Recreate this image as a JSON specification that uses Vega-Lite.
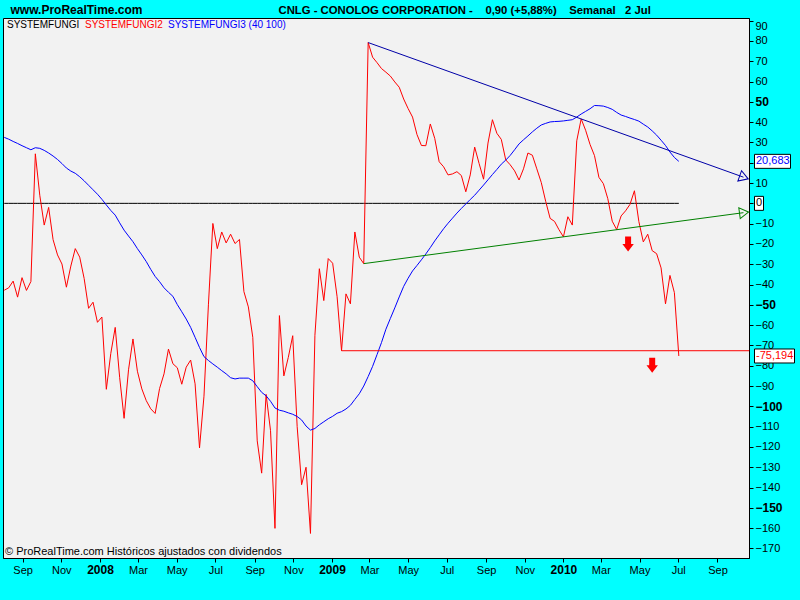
{
"$schema": "https://vega.github.io/schema/vega-lite/v6.json",
"width": 746, "height": 540,
"autosize": {"type": "none"},
"padding": {"left": 3, "top": 18, "right": 51, "bottom": 42},
"background": "#00FFFF",
"title": {"text": "© ProRealTime.com Históricos ajustados con dividendos", "orient": "bottom", "anchor": "start", "frame": "group", "dx": 2, "offset": -20, "baseline": "alphabetic", "font": "Liberation Sans", "fontSize": 11, "fontWeight": "normal", "color": "#000000"},
"config": {"view": {"fill": "#F2F2F2", "stroke": "#000000", "strokeWidth": 1}, "font": "Liberation Sans", "axis": {"labelOverlap": false}},
"datasets": {
"w": [
{"d":"2007-08-03","SYSTEMFUNGI":0,"SYSTEMFUNGI2":-42.8,"SYSTEMFUNGI3":32.5},
{"d":"2007-08-10","SYSTEMFUNGI":0,"SYSTEMFUNGI2":-41.6,"SYSTEMFUNGI3":31.6},
{"d":"2007-08-17","SYSTEMFUNGI":0,"SYSTEMFUNGI2":-38.3,"SYSTEMFUNGI3":30.5},
{"d":"2007-08-24","SYSTEMFUNGI":0,"SYSTEMFUNGI2":-46.2,"SYSTEMFUNGI3":29.5},
{"d":"2007-08-31","SYSTEMFUNGI":0,"SYSTEMFUNGI2":-36.6,"SYSTEMFUNGI3":28.4},
{"d":"2007-09-07","SYSTEMFUNGI":0,"SYSTEMFUNGI2":-42.9,"SYSTEMFUNGI3":27.4},
{"d":"2007-09-14","SYSTEMFUNGI":0,"SYSTEMFUNGI2":-38.5,"SYSTEMFUNGI3":26.4},
{"d":"2007-09-21","SYSTEMFUNGI":0,"SYSTEMFUNGI2":24.4,"SYSTEMFUNGI3":27.4},
{"d":"2007-09-28","SYSTEMFUNGI":0,"SYSTEMFUNGI2":4,"SYSTEMFUNGI3":27.1},
{"d":"2007-10-05","SYSTEMFUNGI":0,"SYSTEMFUNGI2":-10.7,"SYSTEMFUNGI3":26.1},
{"d":"2007-10-12","SYSTEMFUNGI":0,"SYSTEMFUNGI2":-2,"SYSTEMFUNGI3":24.8},
{"d":"2007-10-19","SYSTEMFUNGI":0,"SYSTEMFUNGI2":-17.9,"SYSTEMFUNGI3":23.3},
{"d":"2007-10-26","SYSTEMFUNGI":0,"SYSTEMFUNGI2":-25.4,"SYSTEMFUNGI3":21.6},
{"d":"2007-11-02","SYSTEMFUNGI":0,"SYSTEMFUNGI2":-29.9,"SYSTEMFUNGI3":19.6},
{"d":"2007-11-09","SYSTEMFUNGI":0,"SYSTEMFUNGI2":-41.3,"SYSTEMFUNGI3":17.4},
{"d":"2007-11-16","SYSTEMFUNGI":0,"SYSTEMFUNGI2":-30.9,"SYSTEMFUNGI3":15.9},
{"d":"2007-11-23","SYSTEMFUNGI":0,"SYSTEMFUNGI2":-22.3,"SYSTEMFUNGI3":14.8},
{"d":"2007-11-30","SYSTEMFUNGI":0,"SYSTEMFUNGI2":-26.5,"SYSTEMFUNGI3":13.1},
{"d":"2007-12-07","SYSTEMFUNGI":0,"SYSTEMFUNGI2":-37,"SYSTEMFUNGI3":11.1},
{"d":"2007-12-14","SYSTEMFUNGI":0,"SYSTEMFUNGI2":-51.7,"SYSTEMFUNGI3":8.9},
{"d":"2007-12-21","SYSTEMFUNGI":0,"SYSTEMFUNGI2":-48.7,"SYSTEMFUNGI3":6.7},
{"d":"2007-12-28","SYSTEMFUNGI":0,"SYSTEMFUNGI2":-58.6,"SYSTEMFUNGI3":4.5},
{"d":"2008-01-04","SYSTEMFUNGI":0,"SYSTEMFUNGI2":-56,"SYSTEMFUNGI3":2},
{"d":"2008-01-11","SYSTEMFUNGI":0,"SYSTEMFUNGI2":-91.6,"SYSTEMFUNGI3":-0.8},
{"d":"2008-01-18","SYSTEMFUNGI":0,"SYSTEMFUNGI2":-74,"SYSTEMFUNGI3":-3.5},
{"d":"2008-01-25","SYSTEMFUNGI":0,"SYSTEMFUNGI2":-61.1,"SYSTEMFUNGI3":-5.8},
{"d":"2008-02-01","SYSTEMFUNGI":0,"SYSTEMFUNGI2":-85.7,"SYSTEMFUNGI3":-9.6},
{"d":"2008-02-08","SYSTEMFUNGI":0,"SYSTEMFUNGI2":-105.9,"SYSTEMFUNGI3":-13.2},
{"d":"2008-02-15","SYSTEMFUNGI":0,"SYSTEMFUNGI2":-82,"SYSTEMFUNGI3":-16.1},
{"d":"2008-02-22","SYSTEMFUNGI":0,"SYSTEMFUNGI2":-66.8,"SYSTEMFUNGI3":-18.9},
{"d":"2008-02-29","SYSTEMFUNGI":0,"SYSTEMFUNGI2":-82.7,"SYSTEMFUNGI3":-22.3},
{"d":"2008-03-07","SYSTEMFUNGI":0,"SYSTEMFUNGI2":-91.4,"SYSTEMFUNGI3":-25.4},
{"d":"2008-03-14","SYSTEMFUNGI":0,"SYSTEMFUNGI2":-97.2,"SYSTEMFUNGI3":-28.7},
{"d":"2008-03-21","SYSTEMFUNGI":0,"SYSTEMFUNGI2":-101.2,"SYSTEMFUNGI3":-32.5},
{"d":"2008-03-28","SYSTEMFUNGI":0,"SYSTEMFUNGI2":-103.5,"SYSTEMFUNGI3":-36},
{"d":"2008-04-04","SYSTEMFUNGI":0,"SYSTEMFUNGI2":-91.2,"SYSTEMFUNGI3":-38.6},
{"d":"2008-04-11","SYSTEMFUNGI":0,"SYSTEMFUNGI2":-84,"SYSTEMFUNGI3":-41.6},
{"d":"2008-04-18","SYSTEMFUNGI":0,"SYSTEMFUNGI2":-71.8,"SYSTEMFUNGI3":-43.8},
{"d":"2008-04-25","SYSTEMFUNGI":0,"SYSTEMFUNGI2":-79,"SYSTEMFUNGI3":-45.8},
{"d":"2008-05-02","SYSTEMFUNGI":0,"SYSTEMFUNGI2":-81,"SYSTEMFUNGI3":-49.9},
{"d":"2008-05-09","SYSTEMFUNGI":0,"SYSTEMFUNGI2":-89.1,"SYSTEMFUNGI3":-53.4},
{"d":"2008-05-16","SYSTEMFUNGI":0,"SYSTEMFUNGI2":-80.7,"SYSTEMFUNGI3":-57},
{"d":"2008-05-23","SYSTEMFUNGI":0,"SYSTEMFUNGI2":-77.2,"SYSTEMFUNGI3":-61.1},
{"d":"2008-05-30","SYSTEMFUNGI":0,"SYSTEMFUNGI2":-88.9,"SYSTEMFUNGI3":-66},
{"d":"2008-06-06","SYSTEMFUNGI":0,"SYSTEMFUNGI2":-120.5,"SYSTEMFUNGI3":-71},
{"d":"2008-06-13","SYSTEMFUNGI":0,"SYSTEMFUNGI2":-95,"SYSTEMFUNGI3":-75.5},
{"d":"2008-06-20","SYSTEMFUNGI":0,"SYSTEMFUNGI2":-50,"SYSTEMFUNGI3":-77.4},
{"d":"2008-06-27","SYSTEMFUNGI":0,"SYSTEMFUNGI2":-9.9,"SYSTEMFUNGI3":-79.1},
{"d":"2008-07-04","SYSTEMFUNGI":0,"SYSTEMFUNGI2":-22.3,"SYSTEMFUNGI3":-80.7},
{"d":"2008-07-11","SYSTEMFUNGI":0,"SYSTEMFUNGI2":-14.1,"SYSTEMFUNGI3":-82.4},
{"d":"2008-07-18","SYSTEMFUNGI":0,"SYSTEMFUNGI2":-19.5,"SYSTEMFUNGI3":-84},
{"d":"2008-07-25","SYSTEMFUNGI":0,"SYSTEMFUNGI2":-15.2,"SYSTEMFUNGI3":-85.9},
{"d":"2008-08-01","SYSTEMFUNGI":0,"SYSTEMFUNGI2":-19.8,"SYSTEMFUNGI3":-86.5},
{"d":"2008-08-08","SYSTEMFUNGI":0,"SYSTEMFUNGI2":-17.8,"SYSTEMFUNGI3":-86.1},
{"d":"2008-08-15","SYSTEMFUNGI":0,"SYSTEMFUNGI2":-43.5,"SYSTEMFUNGI3":-86.1},
{"d":"2008-08-22","SYSTEMFUNGI":0,"SYSTEMFUNGI2":-51,"SYSTEMFUNGI3":-86.1},
{"d":"2008-08-29","SYSTEMFUNGI":0,"SYSTEMFUNGI2":-66,"SYSTEMFUNGI3":-87.4},
{"d":"2008-09-05","SYSTEMFUNGI":0,"SYSTEMFUNGI2":-117,"SYSTEMFUNGI3":-90.3},
{"d":"2008-09-12","SYSTEMFUNGI":0,"SYSTEMFUNGI2":-132.9,"SYSTEMFUNGI3":-93.1},
{"d":"2008-09-19","SYSTEMFUNGI":0,"SYSTEMFUNGI2":-94.1,"SYSTEMFUNGI3":-94.8},
{"d":"2008-09-26","SYSTEMFUNGI":0,"SYSTEMFUNGI2":-112,"SYSTEMFUNGI3":-97.5},
{"d":"2008-10-03","SYSTEMFUNGI":0,"SYSTEMFUNGI2":-160.1,"SYSTEMFUNGI3":-100.8},
{"d":"2008-10-10","SYSTEMFUNGI":0,"SYSTEMFUNGI2":-55.3,"SYSTEMFUNGI3":-101.9},
{"d":"2008-10-17","SYSTEMFUNGI":0,"SYSTEMFUNGI2":-85,"SYSTEMFUNGI3":-102.4},
{"d":"2008-10-24","SYSTEMFUNGI":0,"SYSTEMFUNGI2":-75.9,"SYSTEMFUNGI3":-103.2},
{"d":"2008-10-31","SYSTEMFUNGI":0,"SYSTEMFUNGI2":-65.2,"SYSTEMFUNGI3":-103.9},
{"d":"2008-11-07","SYSTEMFUNGI":0,"SYSTEMFUNGI2":-110,"SYSTEMFUNGI3":-105},
{"d":"2008-11-14","SYSTEMFUNGI":0,"SYSTEMFUNGI2":-138.6,"SYSTEMFUNGI3":-106.7},
{"d":"2008-11-21","SYSTEMFUNGI":0,"SYSTEMFUNGI2":-130,"SYSTEMFUNGI3":-109.7},
{"d":"2008-11-28","SYSTEMFUNGI":0,"SYSTEMFUNGI2":-162.6,"SYSTEMFUNGI3":-111.7},
{"d":"2008-12-05","SYSTEMFUNGI":0,"SYSTEMFUNGI2":-65,"SYSTEMFUNGI3":-110.9},
{"d":"2008-12-12","SYSTEMFUNGI":0,"SYSTEMFUNGI2":-32.2,"SYSTEMFUNGI3":-109.1},
{"d":"2008-12-19","SYSTEMFUNGI":0,"SYSTEMFUNGI2":-47.9,"SYSTEMFUNGI3":-107.6},
{"d":"2008-12-26","SYSTEMFUNGI":0,"SYSTEMFUNGI2":-27.2,"SYSTEMFUNGI3":-106.1},
{"d":"2009-01-02","SYSTEMFUNGI":0,"SYSTEMFUNGI2":-29.5,"SYSTEMFUNGI3":-104.9},
{"d":"2009-01-09","SYSTEMFUNGI":0,"SYSTEMFUNGI2":-46,"SYSTEMFUNGI3":-103.4},
{"d":"2009-01-16","SYSTEMFUNGI":0,"SYSTEMFUNGI2":-72.6,"SYSTEMFUNGI3":-102.6},
{"d":"2009-01-23","SYSTEMFUNGI":0,"SYSTEMFUNGI2":-44.6,"SYSTEMFUNGI3":-101.3},
{"d":"2009-01-30","SYSTEMFUNGI":0,"SYSTEMFUNGI2":-49.5,"SYSTEMFUNGI3":-99.5},
{"d":"2009-02-06","SYSTEMFUNGI":0,"SYSTEMFUNGI2":-14.1,"SYSTEMFUNGI3":-96.6},
{"d":"2009-02-13","SYSTEMFUNGI":0,"SYSTEMFUNGI2":-26.5,"SYSTEMFUNGI3":-93.8},
{"d":"2009-02-20","SYSTEMFUNGI":0,"SYSTEMFUNGI2":-29.7,"SYSTEMFUNGI3":-90},
{"d":"2009-02-27","SYSTEMFUNGI":0,"SYSTEMFUNGI2":79.2,"SYSTEMFUNGI3":-85.3},
{"d":"2009-03-06","SYSTEMFUNGI":0,"SYSTEMFUNGI2":72,"SYSTEMFUNGI3":-80.3},
{"d":"2009-03-13","SYSTEMFUNGI":0,"SYSTEMFUNGI2":69.3,"SYSTEMFUNGI3":-74.5},
{"d":"2009-03-20","SYSTEMFUNGI":0,"SYSTEMFUNGI2":66.4,"SYSTEMFUNGI3":-68.6},
{"d":"2009-03-27","SYSTEMFUNGI":0,"SYSTEMFUNGI2":64.6,"SYSTEMFUNGI3":-62},
{"d":"2009-04-03","SYSTEMFUNGI":0,"SYSTEMFUNGI2":62.7,"SYSTEMFUNGI3":-56.7},
{"d":"2009-04-10","SYSTEMFUNGI":0,"SYSTEMFUNGI2":59.8,"SYSTEMFUNGI3":-51.5},
{"d":"2009-04-17","SYSTEMFUNGI":0,"SYSTEMFUNGI2":57.2,"SYSTEMFUNGI3":-46.1},
{"d":"2009-04-24","SYSTEMFUNGI":0,"SYSTEMFUNGI2":51.4,"SYSTEMFUNGI3":-40.9},
{"d":"2009-05-01","SYSTEMFUNGI":0,"SYSTEMFUNGI2":46.7,"SYSTEMFUNGI3":-36.9},
{"d":"2009-05-08","SYSTEMFUNGI":0,"SYSTEMFUNGI2":42.5,"SYSTEMFUNGI3":-33.3},
{"d":"2009-05-15","SYSTEMFUNGI":0,"SYSTEMFUNGI2":33.9,"SYSTEMFUNGI3":-30.6},
{"d":"2009-05-22","SYSTEMFUNGI":0,"SYSTEMFUNGI2":28.5,"SYSTEMFUNGI3":-27.8},
{"d":"2009-05-29","SYSTEMFUNGI":0,"SYSTEMFUNGI2":28.4,"SYSTEMFUNGI3":-24.9},
{"d":"2009-06-05","SYSTEMFUNGI":0,"SYSTEMFUNGI2":39.1,"SYSTEMFUNGI3":-21.8},
{"d":"2009-06-12","SYSTEMFUNGI":0,"SYSTEMFUNGI2":32,"SYSTEMFUNGI3":-18.5},
{"d":"2009-06-19","SYSTEMFUNGI":0,"SYSTEMFUNGI2":20.5,"SYSTEMFUNGI3":-15.5},
{"d":"2009-06-26","SYSTEMFUNGI":0,"SYSTEMFUNGI2":18,"SYSTEMFUNGI3":-12.5},
{"d":"2009-07-03","SYSTEMFUNGI":0,"SYSTEMFUNGI2":14,"SYSTEMFUNGI3":-9.8},
{"d":"2009-07-10","SYSTEMFUNGI":0,"SYSTEMFUNGI2":14.5,"SYSTEMFUNGI3":-7.3},
{"d":"2009-07-17","SYSTEMFUNGI":0,"SYSTEMFUNGI2":15.6,"SYSTEMFUNGI3":-4.8},
{"d":"2009-07-24","SYSTEMFUNGI":0,"SYSTEMFUNGI2":13.7,"SYSTEMFUNGI3":-2.5},
{"d":"2009-07-31","SYSTEMFUNGI":0,"SYSTEMFUNGI2":5.7,"SYSTEMFUNGI3":-0.3},
{"d":"2009-08-07","SYSTEMFUNGI":0,"SYSTEMFUNGI2":14,"SYSTEMFUNGI3":1.9},
{"d":"2009-08-14","SYSTEMFUNGI":0,"SYSTEMFUNGI2":27.7,"SYSTEMFUNGI3":4},
{"d":"2009-08-21","SYSTEMFUNGI":0,"SYSTEMFUNGI2":19.6,"SYSTEMFUNGI3":6.5},
{"d":"2009-08-28","SYSTEMFUNGI":0,"SYSTEMFUNGI2":11.9,"SYSTEMFUNGI3":9},
{"d":"2009-09-04","SYSTEMFUNGI":0,"SYSTEMFUNGI2":29.7,"SYSTEMFUNGI3":11.6},
{"d":"2009-09-11","SYSTEMFUNGI":0,"SYSTEMFUNGI2":41.2,"SYSTEMFUNGI3":14.2},
{"d":"2009-09-18","SYSTEMFUNGI":0,"SYSTEMFUNGI2":34.5,"SYSTEMFUNGI3":16.7},
{"d":"2009-09-25","SYSTEMFUNGI":0,"SYSTEMFUNGI2":31.5,"SYSTEMFUNGI3":19.3},
{"d":"2009-10-02","SYSTEMFUNGI":0,"SYSTEMFUNGI2":21.4,"SYSTEMFUNGI3":21.3},
{"d":"2009-10-09","SYSTEMFUNGI":0,"SYSTEMFUNGI2":19,"SYSTEMFUNGI3":23.6},
{"d":"2009-10-16","SYSTEMFUNGI":0,"SYSTEMFUNGI2":16,"SYSTEMFUNGI3":26.4},
{"d":"2009-10-23","SYSTEMFUNGI":0,"SYSTEMFUNGI2":11.5,"SYSTEMFUNGI3":29.3},
{"d":"2009-10-30","SYSTEMFUNGI":0,"SYSTEMFUNGI2":17,"SYSTEMFUNGI3":31.3},
{"d":"2009-11-06","SYSTEMFUNGI":0,"SYSTEMFUNGI2":24.8,"SYSTEMFUNGI3":33.2},
{"d":"2009-11-13","SYSTEMFUNGI":0,"SYSTEMFUNGI2":23.7,"SYSTEMFUNGI3":35.2},
{"d":"2009-11-20","SYSTEMFUNGI":0,"SYSTEMFUNGI2":17,"SYSTEMFUNGI3":37},
{"d":"2009-11-27","SYSTEMFUNGI":0,"SYSTEMFUNGI2":10.3,"SYSTEMFUNGI3":38.6},
{"d":"2009-12-04","SYSTEMFUNGI":0,"SYSTEMFUNGI2":1,"SYSTEMFUNGI3":39.4},
{"d":"2009-12-11","SYSTEMFUNGI":0,"SYSTEMFUNGI2":-7.4,"SYSTEMFUNGI3":40.1},
{"d":"2009-12-18","SYSTEMFUNGI":0,"SYSTEMFUNGI2":-8.9,"SYSTEMFUNGI3":40.3},
{"d":"2009-12-25","SYSTEMFUNGI":0,"SYSTEMFUNGI2":-13,"SYSTEMFUNGI3":40.4},
{"d":"2010-01-01","SYSTEMFUNGI":0,"SYSTEMFUNGI2":-16.5,"SYSTEMFUNGI3":40.6},
{"d":"2010-01-08","SYSTEMFUNGI":0,"SYSTEMFUNGI2":-6.6,"SYSTEMFUNGI3":40.9},
{"d":"2010-01-15","SYSTEMFUNGI":0,"SYSTEMFUNGI2":-10.7,"SYSTEMFUNGI3":41.2},
{"d":"2010-01-22","SYSTEMFUNGI":0,"SYSTEMFUNGI2":30.8,"SYSTEMFUNGI3":42.5},
{"d":"2010-01-29","SYSTEMFUNGI":0,"SYSTEMFUNGI2":41.6,"SYSTEMFUNGI3":44},
{"d":"2010-02-05","SYSTEMFUNGI":0,"SYSTEMFUNGI2":36,"SYSTEMFUNGI3":45.3},
{"d":"2010-02-12","SYSTEMFUNGI":0,"SYSTEMFUNGI2":29,"SYSTEMFUNGI3":46.6},
{"d":"2010-02-19","SYSTEMFUNGI":0,"SYSTEMFUNGI2":23.5,"SYSTEMFUNGI3":48.2},
{"d":"2010-02-26","SYSTEMFUNGI":0,"SYSTEMFUNGI2":12.8,"SYSTEMFUNGI3":48.1},
{"d":"2010-03-05","SYSTEMFUNGI":0,"SYSTEMFUNGI2":9.7,"SYSTEMFUNGI3":47.9},
{"d":"2010-03-12","SYSTEMFUNGI":0,"SYSTEMFUNGI2":2.3,"SYSTEMFUNGI3":47.2},
{"d":"2010-03-19","SYSTEMFUNGI":0,"SYSTEMFUNGI2":-8.8,"SYSTEMFUNGI3":46.3},
{"d":"2010-03-26","SYSTEMFUNGI":0,"SYSTEMFUNGI2":-12.9,"SYSTEMFUNGI3":44.8},
{"d":"2010-04-02","SYSTEMFUNGI":0,"SYSTEMFUNGI2":-6.2,"SYSTEMFUNGI3":43.5},
{"d":"2010-04-09","SYSTEMFUNGI":0,"SYSTEMFUNGI2":-3.7,"SYSTEMFUNGI3":42.8},
{"d":"2010-04-16","SYSTEMFUNGI":0,"SYSTEMFUNGI2":-0.5,"SYSTEMFUNGI3":42},
{"d":"2010-04-23","SYSTEMFUNGI":0,"SYSTEMFUNGI2":6.2,"SYSTEMFUNGI3":41.3},
{"d":"2010-04-30","SYSTEMFUNGI":0,"SYSTEMFUNGI2":-9,"SYSTEMFUNGI3":40.5},
{"d":"2010-05-07","SYSTEMFUNGI":0,"SYSTEMFUNGI2":-19,"SYSTEMFUNGI3":39},
{"d":"2010-05-14","SYSTEMFUNGI":0,"SYSTEMFUNGI2":-15.2,"SYSTEMFUNGI3":37.6},
{"d":"2010-05-21","SYSTEMFUNGI":0,"SYSTEMFUNGI2":-23.3,"SYSTEMFUNGI3":35.7},
{"d":"2010-05-28","SYSTEMFUNGI":0,"SYSTEMFUNGI2":-24.8,"SYSTEMFUNGI3":33.6},
{"d":"2010-06-04","SYSTEMFUNGI":0,"SYSTEMFUNGI2":-31.8,"SYSTEMFUNGI3":31.1},
{"d":"2010-06-11","SYSTEMFUNGI":0,"SYSTEMFUNGI2":-49.5,"SYSTEMFUNGI3":28.5},
{"d":"2010-06-18","SYSTEMFUNGI":0,"SYSTEMFUNGI2":-35.5,"SYSTEMFUNGI3":25.3},
{"d":"2010-06-25","SYSTEMFUNGI":0,"SYSTEMFUNGI2":-44,"SYSTEMFUNGI3":22.6},
{"d":"2010-07-02","SYSTEMFUNGI":0,"SYSTEMFUNGI2":-75.194,"SYSTEMFUNGI3":20.683}
],
"hline": [{"d":"2009-01-16","v":-72.6},{"d":"2010-10-21","v":-72.6}],
"trend": [
{"t":"up","d":"2009-02-27","v":79.2},{"t":"up","d":"2010-10-12","v":12.9},
{"t":"dn","d":"2009-02-20","v":-29.7},{"t":"dn","d":"2010-10-12","v":-4.6}
],
"arrows": [{"d":"2010-04-13","v":-20},{"d":"2010-05-21","v":-79.7}],
"last": [
{"serie":"SYSTEMFUNGI3","v":20.683,"lab":"20,683"},
{"serie":"SYSTEMFUNGI","v":0,"lab":"0"},
{"serie":"SYSTEMFUNGI2","v":-75.194,"lab":"-75,194"}
]
},
"encoding": {
"y": {"field": "v", "type": "quantitative",
 "scale": {"domain": [-174.7, 91.3], "nice": false, "zero": false},
 "axis": {
  "orient": "right",
  "values": [-170,-160,-150,-140,-130,-120,-110,-100,-90,-80,-70,-60,-50,-40,-30,-20,-10,0,10,20,30,40,50,60,70,80,90],
  "labelFontWeight": {"condition": {"test": "datum.value % 50 == 0 && datum.value != 0", "value": "bold"}, "value": "normal"},
  "labelFontSize": {"condition": {"test": "datum.value % 50 == 0 && datum.value != 0", "value": 12}, "value": 11},
  "labelBaseline": {"condition": {"test": "datum.value == 90", "value": "top"}, "value": "middle"},
  "labelFont": "Liberation Sans", "labelColor": "#000000",
  "tickSize": 4, "tickColor": "#000000", "domainColor": "#000000", "labelPadding": 2,
  "labelFlush": false, "labelOverlap": false, "grid": false,
  "title": "www.ProRealTime.com",
  "titleX": -739, "titleY": -4.7, "titleAlign": "left", "titleBaseline": "alphabetic", "titleAngle": 0,
  "titleFont": "Liberation Sans", "titleFontSize": 12, "titleFontWeight": "bold", "titleColor": "#000000"
 }}
},
"layer": [
{
"data": {"name": "w"},
"transform": [{"fold": ["SYSTEMFUNGI","SYSTEMFUNGI2","SYSTEMFUNGI3"], "as": ["serie","v"]}],
"mark": {"type": "line", "strokeWidth": 1},
"encoding": {
"x": {"field": "d", "type": "temporal",
 "scale": {"type": "utc", "domain": [{"year":2007,"month":8,"date":1,"utc":true},{"year":2010,"month":10,"date":20,"hours":17,"utc":true}]},
 "axis": {
  "values": [
   {"year":2007,"month":9,"date":1,"utc":true},{"year":2007,"month":11,"date":1,"utc":true},
   {"year":2008,"month":1,"date":1,"utc":true},{"year":2008,"month":3,"date":1,"utc":true},{"year":2008,"month":5,"date":1,"utc":true},{"year":2008,"month":7,"date":1,"utc":true},{"year":2008,"month":9,"date":1,"utc":true},{"year":2008,"month":11,"date":1,"utc":true},
   {"year":2009,"month":1,"date":1,"utc":true},{"year":2009,"month":3,"date":1,"utc":true},{"year":2009,"month":5,"date":1,"utc":true},{"year":2009,"month":7,"date":1,"utc":true},{"year":2009,"month":9,"date":1,"utc":true},{"year":2009,"month":11,"date":1,"utc":true},
   {"year":2010,"month":1,"date":1,"utc":true},{"year":2010,"month":3,"date":1,"utc":true},{"year":2010,"month":5,"date":1,"utc":true},{"year":2010,"month":7,"date":1,"utc":true},{"year":2010,"month":9,"date":1,"utc":true}
  ],
  "labelExpr": "utcmonth(datum.value) == 0 ? utcFormat(datum.value, '%Y') : utcFormat(datum.value, '%b')",
  "labelFontWeight": {"condition": {"test": "utcmonth(datum.value) == 0", "value": "bold"}, "value": "normal"},
  "labelFontSize": {"condition": {"test": "utcmonth(datum.value) == 0", "value": 12}, "value": 11},
  "labelFont": "Liberation Sans", "labelColor": "#000000",
  "tickSize": 4, "tickColor": "#000000", "domainColor": "#000000", "labelPadding": 2,
  "labelFlush": false, "labelOverlap": false, "grid": false,
  "title": "CNLG - CONOLOG CORPORATION -\u00a0\u00a0\u00a0 0,90 (+5,88%)\u00a0\u00a0\u00a0 Semanal\u00a0\u00a0 2 Jul",
  "titleX": 275, "titleY": -544.7, "titleAlign": "left", "titleBaseline": "alphabetic", "titleAngle": 0,
  "titleFont": "Liberation Sans", "titleFontSize": 11.3, "titleFontWeight": "bold", "titleColor": "#000000"
 }},
"color": {"field": "serie", "type": "nominal",
 "scale": {"domain": ["SYSTEMFUNGI","SYSTEMFUNGI2","SYSTEMFUNGI3"], "range": ["#000000","#FF0000","#0000FF"]},
 "legend": {"orient": "none", "legendX": 4, "legendY": 2, "direction": "horizontal", "title": null,
  "symbolSize": 0, "symbolStrokeWidth": 0, "symbolOpacity": 0, "labelOffset": -10, "columnPadding": 5, "padding": 0,
  "labelFont": "Liberation Sans", "labelFontSize": 10, "labelLimit": 0,
  "labelExpr": "datum.value == 'SYSTEMFUNGI3' ? 'SYSTEMFUNGI3 (40 100)' : datum.label",
  "labelColor": {"expr": "datum.value == 'SYSTEMFUNGI2' ? '#FF0000' : datum.value == 'SYSTEMFUNGI3' ? '#0000FF' : '#000000'"}
 }}
}
},
{
"data": {"name": "hline"},
"mark": {"type": "line", "strokeWidth": 1, "color": "#FF0000"},
"encoding": {"x": {"field": "d", "type": "temporal"}}
},
{
"data": {"name": "trend"},
"mark": {"type": "line", "strokeWidth": 1},
"encoding": {
 "x": {"field": "d", "type": "temporal"},
 "detail": {"field": "t"},
 "color": {"condition": {"test": "datum.t == 'up'", "value": "#0000A8"}, "value": "#008000"}}
},
{
"data": {"name": "trend"},
"transform": [{"filter": "utcyear(datum.d) == 2010"}],
"mark": {"type": "point", "shape": "M5,0L-4,-5.5L-4,5.5Z", "size": 4, "filled": false, "strokeWidth": 1, "opacity": 1},
"encoding": {
 "x": {"field": "d", "type": "temporal"},
 "color": {"condition": {"test": "datum.t == 'up'", "value": "#0000A8"}, "value": "#008000"},
 "angle": {"condition": {"test": "datum.t == 'up'", "value": 19.6}, "value": 352.5}}
},
{
"data": {"name": "arrows"},
"mark": {"type": "point", "shape": "M-3,-7.5H3V0H5.7L0,7.5L-5.7,0H-3Z", "size": 4, "filled": true, "color": "#FF0000", "opacity": 1},
"encoding": {"x": {"field": "d", "type": "temporal"}}
},
{
"data": {"name": "last"},
"mark": {"type": "point", "filled": true, "fill": "#FFFFFF", "stroke": "#000000", "strokeWidth": 1, "size": 4, "xOffset": 5.5, "opacity": 1},
"encoding": {
 "x": {"datum": {"year":2010,"month":10,"date":20,"hours":17,"utc":true}, "type": "temporal"},
 "shape": {"condition": [{"test": "datum.lab == '0'", "value": "M0,-7H9V7H0Z"}, {"test": "datum.lab == '20,683'", "value": "M0,-7H36V7H0Z"}], "value": "M0,-7H40V7H0Z"}
}
},
{
"data": {"name": "last"},
"mark": {"type": "text", "align": "left", "baseline": "middle", "dx": 7, "font": "Liberation Sans", "fontSize": 11},
"encoding": {
 "x": {"datum": {"year":2010,"month":10,"date":20,"hours":17,"utc":true}, "type": "temporal"},
 "text": {"field": "lab"},
 "color": {"condition": [{"test": "datum.serie == 'SYSTEMFUNGI2'", "value": "#FF0000"}, {"test": "datum.serie == 'SYSTEMFUNGI3'", "value": "#0000FF"}], "value": "#000000"}
}
}
]
}
